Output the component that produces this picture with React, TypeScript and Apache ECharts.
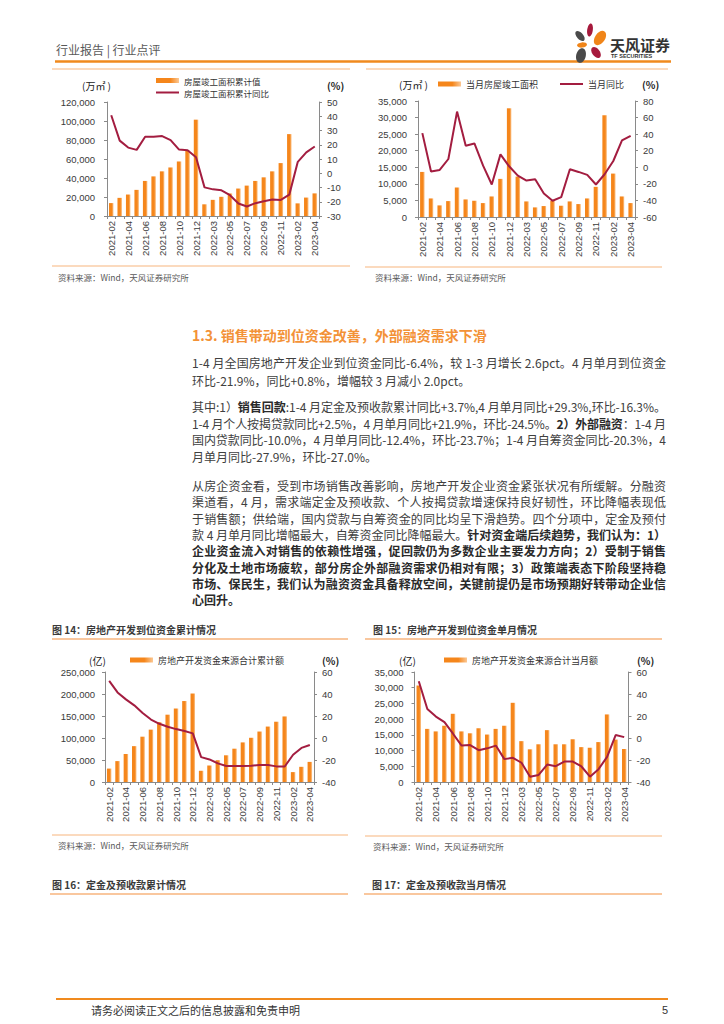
import React, { useEffect, useLayoutEffect, useRef } from "react";
import * as echarts from "echarts";

// ---------- data ----------
const months = [
  "2021-02", "2021-03", "2021-04", "2021-05", "2021-06", "2021-07", "2021-08", "2021-09", "2021-10", "2021-11", "2021-12",
  "2022-02", "2022-03", "2022-04", "2022-05", "2022-06", "2022-07", "2022-08", "2022-09", "2022-10", "2022-11", "2022-12",
  "2023-02", "2023-03", "2023-04",
];
// 房屋竣工面积累计值（万㎡）与累计同比（%）
const completionCum = [13600, 19100, 22600, 27500, 36900, 41700, 47000, 51100, 57400, 68900, 101400, 12300, 17000, 20200, 23700, 28900, 32000, 36900, 40700, 47000, 55700, 86200, 13300, 19400, 23800];
const completionCumYoy = [40.7, 22.9, 18.0, 16.4, 25.6, 25.6, 26.1, 23.3, 16.6, 16.1, 11.2, -9.9, -11.3, -12.0, -15.4, -21.2, -23.3, -21.0, -19.6, -18.4, -18.7, -15.0, 8.0, 14.7, 18.8];
// 当月房屋竣工面积（万㎡）与当月同比（%）
const completionMonthly = [13600, 5600, 3500, 4800, 8900, 5300, 4900, 4200, 6200, 11500, 32800, 12200, 4700, 2900, 3300, 4900, 3400, 4700, 3900, 5600, 9100, 30700, 13100, 6200, 4200];
const completionMonthlyYoy = [41.2, -5.2, -3.2, 10.0, 67.2, 26.0, 28.8, 2.0, -20.8, 15.6, 1.2, -10.0, -16.0, -14.4, -31.6, -40.4, -36.0, -2.4, -5.6, -9.2, -20.8, -8.4, 7.6, 32.4, 38.0];
// 图14：房地产开发资金来源合计累计额（亿）与累计同比（%）
const fundsCum = [30500, 47500, 63500, 81500, 103000, 119000, 136000, 153000, 167000, 184000, 201100, 25500, 37500, 49500, 60700, 75700, 90000, 100500, 114700, 126000, 137000, 149000, 22500, 34500, 45700];
const fundsCumYoy = [51.9, 41.4, 35.1, 29.7, 22.8, 16.8, 12.9, 10.2, 8.1, 6.3, 4.2, -17.4, -19.5, -23.1, -25.5, -25.5, -25.5, -25.2, -24.6, -24.6, -25.8, -25.9, -15.2, -9.0, -6.4];
// 图15：房地产开发资金来源合计当月额（亿）与当月同比（%）
const fundsMonthly = [30700, 16900, 16100, 17900, 21700, 16100, 15500, 17100, 15100, 16900, 17900, 25200, 13000, 10400, 12000, 16500, 12000, 12000, 13600, 11100, 10900, 12700, 21500, 13500, 10500];
const fundsMonthlyYoy = [51.6, 26.4, 19.5, 14.4, 3.9, -6.9, -6.4, -11.1, -9.4, -6.9, -19.2, -18.0, -22.5, -35.2, -33.6, -24.1, -25.6, -21.4, -21.4, -25.9, -35.2, -28.3, -17.2, 2.7, 0.8];

// ---------- text ----------
type Seg = { t: string; b?: boolean };
const heading = "1.3. 销售带动到位资金改善，外部融资需求下滑";
const para1: Seg[][] = [
  [{ t: "1-4 月全国房地产开发企业到位资金同比-6.4%，较 1-3 月增长 2.6pct。4 月单月到位资金" }],
  [{ t: "环比-21.9%，同比+0.8%，增幅较 3 月减小 2.0pct。" }],
];
const para2: Seg[][] = [
  [{ t: "其中:1）" }, { t: "销售回款", b: true }, { t: ":1-4 月定金及预收款累计同比+3.7%,4 月单月同比+29.3%,环比-16.3%。" }],
  [{ t: "1-4 月个人按揭贷款同比+2.5%，4 月单月同比+21.9%，环比-24.5%。" }, { t: "2）外部融资", b: true }, { t: "：1-4 月" }],
  [{ t: "国内贷款同比-10.0%，4 月单月同比-12.4%，环比-23.7%；1-4 月自筹资金同比-20.3%，4" }],
  [{ t: "月单月同比-27.9%，环比-27.0%。" }],
];
const para3: Seg[][] = [
  [{ t: "从房企资金看，受到市场销售改善影响，房地产开发企业资金紧张状况有所缓解。分融资" }],
  [{ t: "渠道看，4 月，需求端定金及预收款、个人按揭贷款增速保持良好韧性，环比降幅表现低" }],
  [{ t: "于销售额；供给端，国内贷款与自筹资金的同比均呈下滑趋势。四个分项中，定金及预付" }],
  [{ t: "款 4 月单月同比增幅最大，自筹资金同比降幅最大。" }, { t: "针对资金端后续趋势，我们认为：1）", b: true }],
  [{ t: "企业资金流入对销售的依赖性增强，促回款仍为多数企业主要发力方向；2）受制于销售", b: true }],
  [{ t: "分化及土地市场疲软，部分房企外部融资需求仍相对有限；3）政策端表态下阶段坚持稳", b: true }],
  [{ t: "市场、保民生，我们认为融资资金具备释放空间，关键前提仍是市场预期好转带动企业信", b: true }],
  [{ t: "心回升。", b: true }],
];

// ---------- styles ----------
const RED = "#A31D40";
const AX = "#8a8a8a";
const LBL = "#3a3a3a";
const NUMF = "'Liberation Sans', Arial, sans-serif";
const CJKF = "'Noto Sans CJK SC', sans-serif";
const LIGHT = "#F7B57E";

const barColor = new echarts.graphic.LinearGradient(0, 0, 1, 0, [
  { offset: 0, color: "#F5861B" },
  { offset: 0.62, color: "#F5861B" },
  { offset: 1, color: "#FBC894" },
]);

const thousands = (v: number) => v.toLocaleString("en-US");

function xAx(gi: number) {
  return {
    type: "category",
    gridIndex: gi,
    data: months,
    boundaryGap: true,
    axisLine: { show: true, lineStyle: { color: AX, width: 1 } },
    axisTick: { show: true, interval: 0, length: 3, lineStyle: { color: AX } },
    axisLabel: { rotate: 90, interval: 1, fontSize: 9.5, color: LBL, margin: 5, fontFamily: NUMF },
    splitLine: { show: false },
  };
}
function yAx(gi: number, pos: string, min: number, max: number, interval: number, margin: number, fmt?: (v: number) => string) {
  return {
    type: "value",
    gridIndex: gi,
    position: pos,
    min,
    max,
    interval,
    axisLine: { show: true, lineStyle: { color: AX, width: 1 } },
    axisTick: { show: true, length: 3, lineStyle: { color: AX } },
    splitLine: { show: false },
    axisLabel: { fontSize: 9.5, color: LBL, margin, fontFamily: NUMF, formatter: fmt },
  };
}
function barS(name: string, data: number[], i: number) {
  return { type: "bar", name, data, xAxisIndex: i, yAxisIndex: i * 2, barWidth: 4.5, itemStyle: { color: barColor }, z: 2 };
}
function lineS(name: string, data: number[], i: number) {
  return {
    type: "line", name, data, xAxisIndex: i, yAxisIndex: i * 2 + 1, symbol: "none", showSymbol: false,
    lineStyle: { color: RED, width: 2 }, itemStyle: { color: RED }, z: 3,
  };
}
// one legend per item, so bar items get a 23x5 block and line items a 23x2 stroke
function legendAt(left: number, centerY: number, name: string, isLine: boolean, size = 9) {
  const h = isLine ? 2 : 5;
  return {
    left, top: centerY - 5, orient: "horizontal", padding: 0,
    data: [{ name, icon: "rect" }],
    itemWidth: 23, itemHeight: h,
    textStyle: { fontSize: size, color: "#333", fontFamily: CJKF, lineHeight: 10 },
    selectedMode: false,
  };
}
function txt(x: number, y: number, text: string, size: number, fill = "#333", weight: any = "normal", align = "left", family = CJKF) {
  return {
    type: "text", x, y, silent: true, z: 10,
    style: { text, fill, fontSize: size, fontWeight: weight, fontFamily: family, align, verticalAlign: "middle" },
  };
}
function hline(x1: number, x2: number, y: number, stroke: string, w: number) {
  return { type: "line", silent: true, z: 10, shape: { x1, y1: y, x2, y2: y }, style: { stroke, lineWidth: w } };
}
function petal(cx: number, cy: number, rx: number, ry: number, rot: number, fill: string) {
  return { type: "ellipse", x: cx, y: cy, rotation: rot, silent: true, z: 10, shape: { cx: 0, cy: 0, rx, ry }, style: { fill } };
}

function buildOption() {
  const graphic: any[] = [
    // header
    txt(56, 49, "行业报告 | 行业点评", 12, "#595959"),
    hline(55, 671, 61.5, "#F08A1E", 2.5),
    petal(590, 30, 2.8, 6.5, -0.15, "#A6193C"),
    petal(580, 36, 3.2, 6, 0.75, "#4A4A4A"),
    petal(600, 38, 5, 8, -0.6, "#F08519"),
    petal(582, 45, 5, 2.6, 0.1, "#F08519"),
    petal(581, 55.5, 4.8, 7.5, -0.25, "#4A4A4A"),
    petal(596, 52.5, 3.8, 6.2, 0.65, "#A6193C"),
    txt(610, 44, "天风证券", 15, "#333", "bold"),
    txt(611, 56, "TF SECURITIES", 5.5, "#333", "bold", "left", NUMF),
    hline(52, 350, 69, LIGHT, 1.2),
    hline(366, 668, 69, LIGHT, 1.2),
    // chart 1
    txt(82, 85, "(万㎡ )", 10, "#222"),
    txt(327, 85, "(%)", 10, "#222", "bold"),
    hline(52, 350, 266, LIGHT, 1.2),
    txt(58, 277, "资料来源：Wind，天风证券研究所", 8.5, "#595959"),
    // chart 2
    txt(399, 84, "(万㎡ )", 10, "#222"),
    txt(642, 84, "(%)", 10, "#222", "bold"),
    hline(365, 662, 267, LIGHT, 1.2),
    txt(375, 277, "资料来源：Wind，天风证券研究所", 8.5, "#595959"),
    // chart 3
    txt(52, 629, "图 14：房地产开发到位资金累计情况", 10, "#3a3a3a", "bold"),
    hline(52, 348, 639, LIGHT, 1.4),
    txt(89, 660, "(亿)", 10, "#222"),
    txt(322, 660, "(%)", 10, "#222", "bold"),
    hline(52, 348, 835, LIGHT, 1.2),
    txt(58, 845, "资料来源：Wind，天风证券研究所", 8.5, "#595959"),
    // chart 4
    txt(373, 629, "图 15：房地产开发到位资金单月情况", 10, "#3a3a3a", "bold"),
    hline(365, 662, 639, LIGHT, 1.4),
    txt(399, 660, "(亿)", 10, "#222"),
    txt(637, 660, "(%)", 10, "#222", "bold"),
    hline(365, 662, 836, LIGHT, 1.2),
    txt(373, 846, "资料来源：Wind，天风证券研究所", 8.5, "#595959"),
    // next figure titles
    txt(52, 884, "图 16：定金及预收款累计情况", 10, "#3a3a3a", "bold"),
    hline(50, 348, 894, LIGHT, 1.4),
    txt(372, 884, "图 17：定金及预收款当月情况", 10, "#3a3a3a", "bold"),
    hline(364, 662, 894, LIGHT, 1.4),
    // footer
    hline(56, 668, 999, "#F08A1E", 2),
    txt(91, 1010, "请务必阅读正文之后的信息披露和免责申明", 11, "#333"),
    txt(668, 1010, "5", 11, "#333", "normal", "right", NUMF),
  ];

  return {
    animation: false,
    textStyle: { fontFamily: NUMF },
    grid: [
      { left: 107, top: 102, width: 212, height: 114, containLabel: false },
      { left: 418, top: 101, width: 217, height: 116, containLabel: false },
      { left: 105, top: 672, width: 209, height: 110, containLabel: false },
      { left: 414.5, top: 672, width: 214, height: 110, containLabel: false },
    ],
    xAxis: [xAx(0), xAx(1), xAx(2), xAx(3)],
    yAxis: [
      yAx(0, "left", 0, 120000, 20000, 12, thousands),
      yAx(0, "right", -30, 50, 10, 8),
      yAx(1, "left", 0, 35000, 5000, 11, thousands),
      yAx(1, "right", -60, 80, 20, 8),
      yAx(2, "left", 0, 250000, 50000, 10, thousands),
      yAx(2, "right", -40, 60, 20, 8),
      yAx(3, "left", 0, 35000, 5000, 11, thousands),
      yAx(3, "right", -40, 60, 20, 8),
    ],
    legend: [
      legendAt(156, 80.5, "房屋竣工面积累计值", false, 8.5),
      legendAt(156, 92.5, "房屋竣工面积累计同比", true, 8.5),
      legendAt(438, 84, "当月房屋竣工面积", false),
      legendAt(560, 84, "当月同比", true),
      legendAt(130, 660, "房地产开发资金来源合计累计额", false),
      legendAt(444, 660, "房地产开发资金来源合计当月额", false),
    ],
    series: [
      barS("房屋竣工面积累计值", completionCum, 0),
      lineS("房屋竣工面积累计同比", completionCumYoy, 0),
      barS("当月房屋竣工面积", completionMonthly, 1),
      lineS("当月同比", completionMonthlyYoy, 1),
      barS("房地产开发资金来源合计累计额", fundsCum, 2),
      lineS("资金来源累计同比", fundsCumYoy, 2),
      barS("房地产开发资金来源合计当月额", fundsMonthly, 3),
      lineS("资金来源当月同比", fundsMonthlyYoy, 3),
    ],
    graphic,
  };
}

const TEXT_LEFT = 192;
const TEXT_W = 474;

function Para({ lines, y0, step }: { lines: Seg[][]; y0: number; step: number }) {
  return (
    <>
      {lines.map((segs, i) => (
        <div
          key={i}
          className="pl"
          data-j={i < lines.length - 1 ? "1" : "0"}
          data-w={TEXT_W}
          style={{
            position: "absolute", left: TEXT_LEFT, top: y0 + i * step - 9, width: TEXT_W, height: 18,
            lineHeight: "18px", fontSize: 12, whiteSpace: "nowrap", color: "#404040", fontFamily: CJKF,
          }}
        >
          <span>
            {segs.map((s, k) => (
              <span key={k} style={{ fontWeight: s.b ? 700 : 400, color: s.b ? "#2a2a2a" : undefined }}>{s.t}</span>
            ))}
          </span>
        </div>
      ))}
    </>
  );
}

export default function App() {
  const ref = useRef<HTMLDivElement>(null);

  useEffect(() => {
    if (!ref.current) return;
    const chart = echarts.init(ref.current, null, { renderer: "svg" });
    chart.setOption(buildOption() as any);
    return () => chart.dispose();
  }, []);

  useLayoutEffect(() => {
    const run = () => {
      document.querySelectorAll<HTMLDivElement>('div.pl[data-j="1"]').forEach((d) => {
        const sp = d.firstElementChild as HTMLSpanElement;
        if (!sp) return;
        sp.style.letterSpacing = "0px";
        const w = sp.getBoundingClientRect().width;
        const n = (sp.textContent || "").length;
        const W = Number(d.dataset.w);
        if (n > 1) sp.style.letterSpacing = (W - w) / (n - 1) + "px";
      });
    };
    run();
    const f: any = (document as any).fonts;
    if (f && f.ready) f.ready.then(run);
  }, []);

  return (
    <div style={{ position: "fixed", left: 0, top: 0, width: 724, height: 1024, background: "#fff", overflow: "hidden" }}>
      <div ref={ref} style={{ position: "absolute", left: 0, top: 0, width: 724, height: 1024 }} />
      <div
        style={{
          position: "absolute", left: TEXT_LEFT, top: 326, height: 18, lineHeight: "18px", whiteSpace: "nowrap",
          fontSize: 14, fontWeight: 700, color: "#F39237", fontFamily: CJKF,
        }}
      >
        {heading}
      </div>
      <Para lines={para1} y0={363} step={18} />
      <Para lines={para2} y0={407} step={16.7} />
      <Para lines={para3} y0={486} step={16.3} />
    </div>
  );
}
